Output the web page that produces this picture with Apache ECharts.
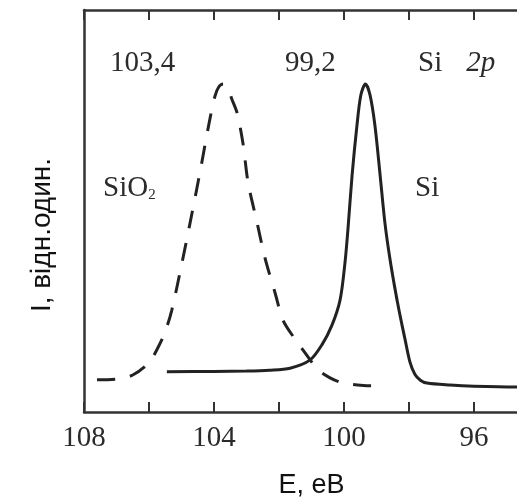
<!DOCTYPE html>
<html>
<head>
<meta charset="utf-8">
<script src="https://cdn.jsdelivr.net/npm/echarts@6/dist/echarts.min.js"></script>
<style>
  html, body { margin: 0; padding: 0; background: #fff; }
  #chart { width: 517px; height: 504px; }
</style>
</head>
<body>
<div id="chart"></div>
<script>
// Si 2p photoelectron spectrum: oxide (SiO2) and elemental Si peaks
const sio2Energy = [107.6, 107.0, 106.5, 106.0, 105.7, 105.5, 105.3, 105.0, 104.7, 104.4, 104.15, 103.97, 103.85,
                    103.72, 103.57, 103.45, 103.29, 103.11, 102.95, 102.68, 102.43, 102.12, 101.88, 101.55, 101.26,
                    100.8, 100.43, 100.03, 99.4, 98.83];
const sio2Intensity = [8.0, 8.2, 9.2, 12.3, 16.4, 20.0, 25.3, 36.5, 48.5, 61.0, 71.9, 78.6, 80.9,
                       81.6, 80.4, 77.8, 74.4, 66.9, 57.0, 47.3, 38.3, 29.6, 22.9, 18.6, 15.4,
                       10.5, 8.5, 7.2, 6.6, 6.5];

const siEnergy = [105.45, 104.0, 103.0, 102.3, 101.66, 101.05, 100.68, 100.37, 100.12, 99.97, 99.88, 99.75, 99.6,
                  99.48, 99.34, 99.2, 99.05, 98.89, 98.74, 98.6, 98.45, 98.3, 98.12, 97.97, 97.82, 97.65, 97.45,
                  96.74, 96.0, 94.7, 94.0];
const siIntensity = [10.0, 10.1, 10.2, 10.4, 10.9, 12.9, 16.7, 21.6, 27.9, 37.1, 45.3, 59.0, 71.4,
                     78.9, 81.6, 78.9, 71.4, 59.0, 47.0, 38.8, 31.5, 25.0, 18.0, 12.4, 9.4, 7.9, 7.2,
                     6.7, 6.4, 6.2, 6.2];

const energyTicks = [108, 104, 100, 96];

const serif = '"Liberation Serif", "Times New Roman", serif';
const ink = '#2b2b2b';

function pairs(xs, ys) { return xs.map((x, i) => [x, ys[i]]); }

const chart = echarts.init(document.getElementById('chart'), null, { renderer: 'canvas' });

const xBase = {
  type: 'value', min: 94, max: 108, interval: 2, inverse: true,
  splitLine: { show: false },
  axisLine: { show: true, lineStyle: { color: '#333', width: 2.5 } },
  axisTick: { show: true, inside: true, length: 10, lineStyle: { color: '#333', width: 2 } }
};

chart.setOption({
  animation: false,
  backgroundColor: '#fff',
  grid: { left: 84, right: -22, top: 10, bottom: 92, containLabel: false, outerBoundsMode: 'none' },
  xAxis: [
    Object.assign({}, xBase, {
      position: 'bottom',
      name: 'E, eB', nameLocation: 'middle', nameGap: 60,
      nameTextStyle: { fontFamily: '"Liberation Sans", Arial, sans-serif', fontSize: 27, color: '#111' },
      axisLabel: {
        margin: 12, fontFamily: serif, fontSize: 29, color: ink, hideOverlap: false,
        formatter: v => energyTicks.includes(v) ? String(v) : ''
      }
    }),
    Object.assign({}, xBase, { position: 'top', axisLabel: { show: false } })
  ],
  yAxis: {
    type: 'value', min: 0, max: 100,
    splitLine: { show: false },
    axisLine: { show: true, lineStyle: { color: '#333', width: 2.5 } },
    axisTick: { show: false },
    axisLabel: { show: false }
  },
  series: [
    {
      name: 'SiO2', type: 'line', xAxisIndex: 0, smooth: 0.3, showSymbol: false,
      data: pairs(sio2Energy, sio2Intensity),
      lineStyle: { color: '#222', width: 3, type: [18, 15], cap: 'butt' }
    },
    {
      name: 'Si', type: 'line', xAxisIndex: 0, smooth: 0.3, showSymbol: false,
      data: pairs(siEnergy, siIntensity),
      lineStyle: { color: '#222', width: 3 }
    }
  ],
  graphic: [
    { type: 'text', x: 42, y: 235, rotation: Math.PI / 2,
      style: { text: 'I, відн.один.', font: '28px "Liberation Sans", Arial, sans-serif', fill: '#111',
               align: 'center', verticalAlign: 'middle' } },
    { type: 'text', x: 110, y: 63,
      style: { text: '103,4', font: '29px ' + serif, fill: ink, verticalAlign: 'middle' } },
    { type: 'text', x: 285, y: 63,
      style: { text: '99,2', font: '29px ' + serif, fill: ink, verticalAlign: 'middle' } },
    { type: 'text', x: 418, y: 63,
      style: { text: 'Si{i|2p}', font: '29px ' + serif, fill: ink, verticalAlign: 'middle',
               rich: { i: { fontStyle: 'italic', fontFamily: serif, fontSize: 29, padding: [0, 0, 0, 24] } } } },
    { type: 'text', x: 103, y: 188,
      style: { text: 'SiO{s|2}', font: '29px ' + serif, fill: ink, verticalAlign: 'middle', lineHeight: 30,
               rich: { s: { fontFamily: serif, fontSize: 15, lineHeight: 16, verticalAlign: 'bottom' } } } },
    { type: 'text', x: 415, y: 188,
      style: { text: 'Si', font: '29px ' + serif, fill: ink, verticalAlign: 'middle' } }
  ]
});
</script>
</body>
</html>
